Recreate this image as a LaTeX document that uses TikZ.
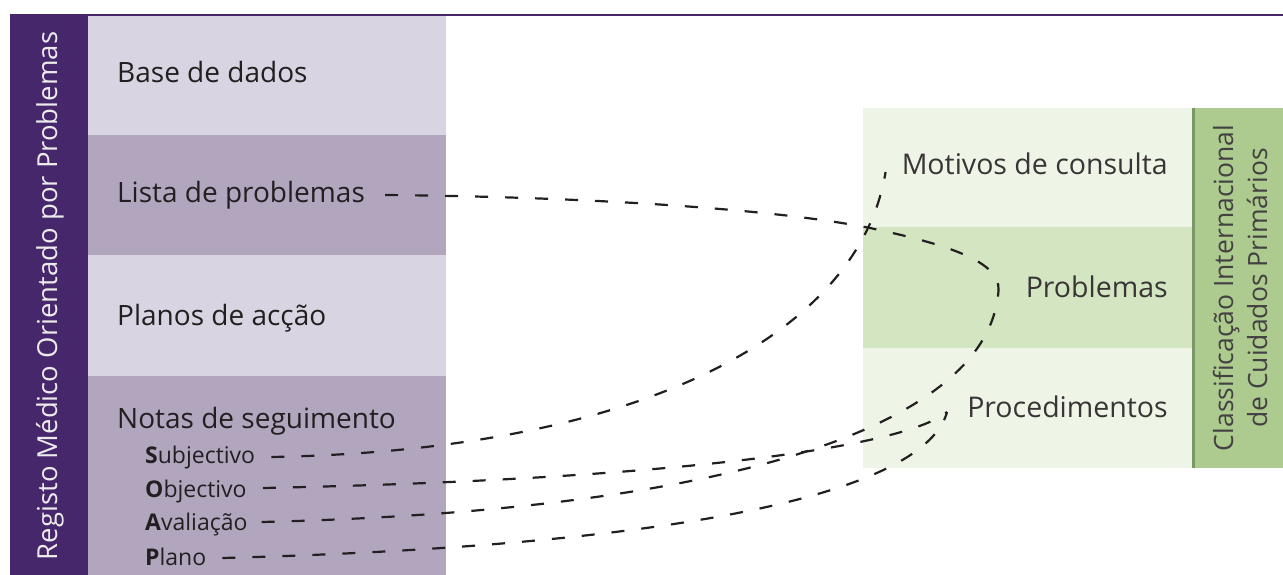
\documentclass[tikz,border=0pt]{standalone}
\usepackage{fontspec}
\setmainfont{Open Sans}
\definecolor{barpurple}{HTML}{47276C}
\definecolor{lightpurple}{HTML}{D9D4E1}
\definecolor{midpurple}{HTML}{B2A6BF}
\definecolor{lightgreen}{HTML}{EEF5E7}
\definecolor{midgreen}{HTML}{D3E6C1}
\definecolor{bargreen}{HTML}{ADCB8E}
\definecolor{edgegreen}{HTML}{7A9866}
\definecolor{ink}{HTML}{231F20}
\tikzset{
  mainlabel/.style={inner sep=0pt, anchor=base west, text=ink, font=\fontsize{28}{30}\selectfont},
  sublabel/.style={inner sep=0pt, anchor=base west, text=ink, font=\fontsize{23}{24}\selectfont},
  rightlabel/.style={inner sep=0pt, anchor=base east, text=ink!90, font=\fontsize{28.5}{30}\selectfont},
  link/.style={draw=ink, line width=2.2pt, dash pattern=on 13pt off 17pt},
}
\begin{document}
\begin{tikzpicture}[x=1pt,y=-1pt]
\useasboundingbox (0,0) rectangle (1283,575);
% left column
\fill[lightpurple] (88,15) rectangle (446,135);
\fill[midpurple] (88,135) rectangle (446,255);
\fill[lightpurple] (88,255) rectangle (446,376);
\fill[midpurple] (88,376) rectangle (446,575);
\fill[barpurple] (10,15) rectangle (88,575);
\draw[barpurple, line width=2pt] (10,15) -- (1283,15);
\node[rotate=90, text=white!92!black, inner sep=0pt, font=\fontsize{27.5}{30}\selectfont] (rmop) at (50,296) {Registo Médico Orientado por Problemas};
% right column
\fill[lightgreen] (863,108) rectangle (1192,227);
\fill[midgreen] (863,227) rectangle (1192,348);
\fill[lightgreen] (863,348) rectangle (1192,468);
\fill[bargreen] (1192,108) rectangle (1283,468);
\draw[edgegreen, line width=3pt] (1193.5,108) -- (1193.5,468);
\node[rotate=90, align=center, text=ink!85, inner sep=0pt, font=\fontsize{26.5}{34}\selectfont] (cicp) at (1240,288) {Classificação Internacional\\de Cuidados Primários};
% labels
\node[mainlabel] (base) at (117,83) {Base de dados};
\node[mainlabel] (lista) at (117,203) {Lista de problemas};
\node[mainlabel] (planos) at (117,325) {Planos de acção};
\node[mainlabel] (notas) at (117,428) {Notas de seguimento};
\node[sublabel] (subj) at (145,463) {\textbf{S}ubjectivo};
\node[sublabel] (obj) at (145,497) {\textbf{O}bjectivo};
\node[sublabel] (aval) at (145,530) {\textbf{A}valiação};
\node[sublabel] (plano) at (145,565) {\textbf{P}lano};
\node[rightlabel] (motivos) at (1168,175) {Motivos de consulta};
\node[rightlabel] (problemas) at (1168,297) {Problemas};
\node[rightlabel] (proc) at (1168,417) {Procedimentos};
% connectors
\draw[link] ([xshift=20pt,yshift=8pt]lista.base east) .. controls (600,197) and (780,210) .. (870,228)
   .. controls (950,245) and (1000,262) .. ([xshift=-27pt,yshift=7pt]problemas.base west);
\draw[link] ([xshift=16pt,yshift=6pt]subj.base east) .. controls (650,450) and (860,330) .. ([xshift=-16pt,yshift=3pt]motivos.base west);
\draw[link] ([xshift=14pt,yshift=8pt]aval.base east) .. controls (750,510) and (990,420) .. ([xshift=-27pt,yshift=7pt]problemas.base west);
\draw[link] ([xshift=16pt,yshift=9pt]obj.base east) .. controls (650,480) and (900,450) .. ([xshift=-20pt,yshift=5pt]proc.base west);
\draw[link] ([xshift=16pt,yshift=7pt]plano.base east) .. controls (700,545) and (925,490) .. ([xshift=-20pt,yshift=5pt]proc.base west);
\end{tikzpicture}
\end{document}
